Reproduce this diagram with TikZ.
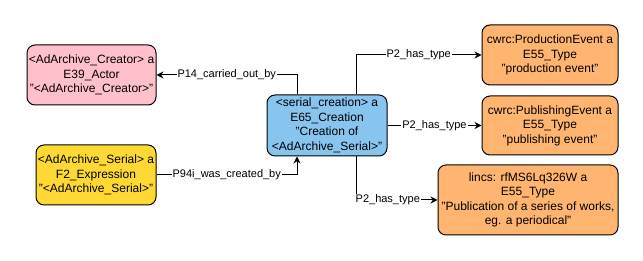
\documentclass[tikz,border=0pt]{standalone}
\usepackage{fontspec}
\setmainfont{Liberation Sans}
\usetikzlibrary{arrows.meta}
\definecolor{pinkc}{HTML}{FFC0CB}
\definecolor{yellowc}{HTML}{FFD933}
\definecolor{bluec}{HTML}{87C5EF}
\definecolor{orangec}{HTML}{FFB570}
\tikzset{
  ent/.style={draw=black, line width=1pt, rounded corners=8pt, align=center,
    font=\fontsize{12}{14.5}\selectfont, inner sep=1pt},
  conn/.style={line width=1pt, -{Stealth[length=7pt,width=7pt]}},
  lbl/.style={fill=white, inner sep=1pt, font=\fontsize{11}{13}\selectfont}
}
\begin{document}
\begin{tikzpicture}[x=1pt,y=-1pt]
\useasboundingbox (0,0) rectangle (643,261);
\node[ent, fill=pinkc, minimum width=129pt, minimum height=60pt] (creator) at (91.5,75)
  {<AdArchive\_Creator> a\\E39\_Actor\\"<AdArchive\_Creator>"};
\node[ent, fill=yellowc, minimum width=120pt, minimum height=60pt] (serial) at (96,175)
  {<AdArchive\_Serial> a\\F2\_Expression\\"<AdArchive\_Serial>"};
\node[ent, fill=bluec, minimum width=120pt, minimum height=61pt] (creation) at (327,125.5)
  {<serial\_creation> a\\E65\_Creation\\"Creation of\\<AdArchive\_Serial>"};
\node[ent, fill=orangec, minimum width=136pt, minimum height=60pt] (prod) at (550,55)
  {cwrc:ProductionEvent a\\E55\_Type\\"production event"};
\node[ent, fill=orangec, minimum width=136pt, minimum height=59pt] (pub) at (550,125.5)
  {cwrc:PublishingEvent a\\E55\_Type\\"publishing event"};
\node[ent, fill=orangec, minimum width=180pt, minimum height=70pt] (lincs) at (528,200)
  {lincs: rfMS6Lq326W a\\E55\_Type\\"Publication of a series of works,\\eg. a periodical"};

\draw[conn] ([xshift=-30pt]creation.north) |- node[lbl, pos=0.75] {P14\_carried\_out\_by} (creator.east);
\draw[conn] (serial.east) -| node[lbl, pos=0.25] {P94i\_was\_created\_by} ([xshift=-30pt]creation.south);
\draw[conn] ([xshift=29pt]creation.north) |- node[lbl, pos=0.75] {P2\_has\_type} (prod.west);
\draw[conn] (creation.east) -- node[lbl, pos=0.5] {P2\_has\_type} (pub.west);
\draw[conn] ([xshift=29pt]creation.south) |- node[lbl, pos=0.695] {P2\_has\_type} (lincs.west);
\end{tikzpicture}
\end{document}
